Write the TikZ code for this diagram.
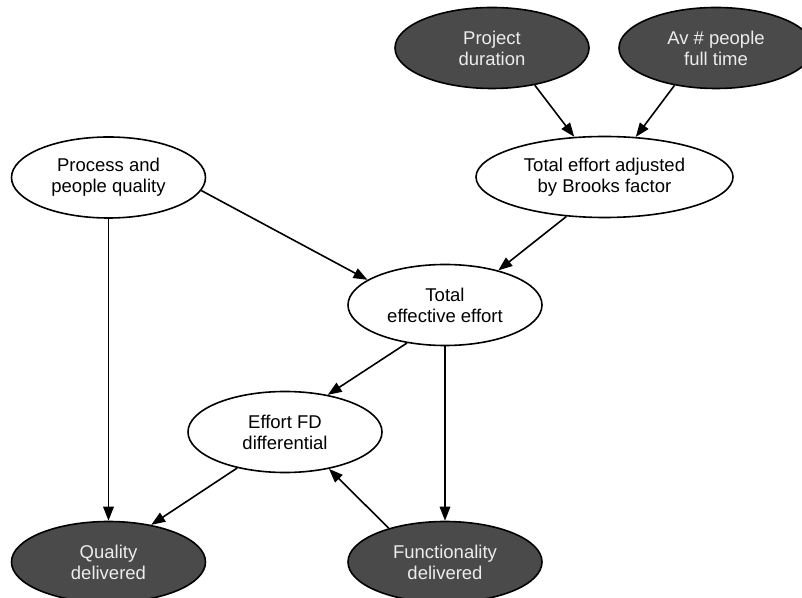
\documentclass[tikz,border=0pt]{standalone}
\usepackage{fontspec}
\setmainfont{Liberation Sans}
\usepackage{xcolor}
\usepackage{tikz}
\usetikzlibrary{arrows.meta,positioning,shapes.geometric}
\definecolor{obsgray}{RGB}{74,74,74}
\definecolor{obstext}{RGB}{236,236,236}

\begin{document}
\begin{tikzpicture}[x=1pt,y=1pt,
  var/.style={ellipse,draw,line width=1.6pt,align=center,inner sep=0pt,minimum width=194pt,minimum height=81pt,font=\fontsize{18.5}{21}\selectfont},
  obs/.style={var,fill=obsgray,text=obstext},
  arr/.style={-{Triangle[length=14pt,width=10.5pt]},line width=1.6pt}
]
\useasboundingbox (0,0) rectangle (802,597);

\node[obs] (pd) at (492,549) {Project\\duration};
\node[obs] (av) at (716,549) {Av \# people\\full time};
\node[var] (pq) at (108.5,419.5) {Process and\\people quality};
\node[var,minimum width=257pt] (ta) at (604.5,420) {Total effort adjusted\\by Brooks factor};
\node[var] (te) at (445,292) {Total\\effective effort};
\node[var] (efd) at (285,165) {Effort FD\\differential};
\node[obs] (qd) at (108.5,35) {Quality\\delivered};
\node[obs] (fd) at (445,35) {Functionality\\delivered};

\draw[arr] (pd.-41) -- (ta.127);
\draw[arr] (av.-138) -- (ta.52);
\draw[arr] (ta.-134) -- (te.33);
\draw[arr] (pq.-8) -- (te.162);
\draw[arr] (pq) -- (qd);
\draw[arr] (te.-135) -- (efd.41);
\draw[arr] (te) -- (fd);
\draw[arr] (efd.-143) -- (qd.41);
\draw[arr] (fd.149) -- (efd.-40);
\end{tikzpicture}
\end{document}
